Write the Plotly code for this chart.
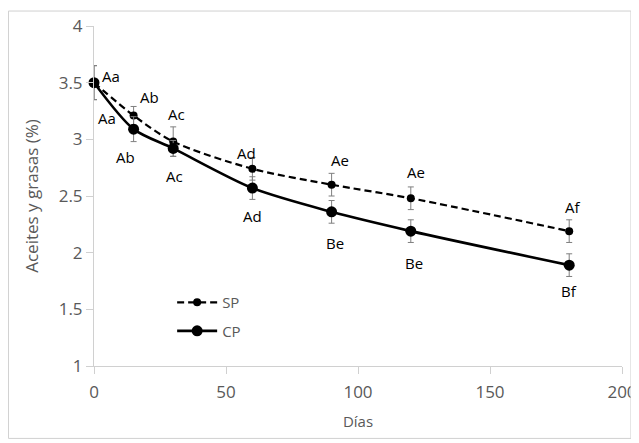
import plotly.graph_objects as go

dias = [0, 15, 30, 60, 90, 120, 180]
sp_vals = [3.50, 3.21, 2.98, 2.74, 2.60, 2.48, 2.19]
sp_err = [0.15, 0.08, 0.13, 0.10, 0.10, 0.10, 0.10]
cp_vals = [3.50, 3.09, 2.92, 2.57, 2.36, 2.19, 1.89]
cp_err = [0.15, 0.11, 0.07, 0.10, 0.10, 0.10, 0.10]
sp_labels = ["Aa", "Ab", "Ac", "Ad", "Ae", "Ae", "Af"]
cp_labels = ["Aa", "Ab", "Ac", "Ad", "Be", "Be", "Bf"]

x_ticks = [0, 50, 100, 150, 200]
y_ticks = [1, 1.5, 2, 2.5, 3, 3.5, 4]
y_ticktext = ["1", "1.5", "2", "2.5", "3", "3.5", "4"]

FONT = "Open Sans"
GRAY = "#595959"
AXIS = "#d0d0d0"

fig = go.Figure()
fig.add_trace(go.Scatter(
    x=dias, y=sp_vals, name="SP", mode="lines+markers",
    line=dict(color="black", width=2.2, dash="7px,4px", shape="spline", smoothing=0.8),
    marker=dict(size=8, color="black"),
    error_y=dict(type="data", array=sp_err, color="#7f7f7f", thickness=1, width=3),
    cliponaxis=False, legendgroup="sp",
))
fig.add_trace(go.Scatter(
    x=dias, y=cp_vals, name="CP", mode="lines+markers",
    line=dict(color="black", width=2.6, shape="spline", smoothing=0.8),
    marker=dict(size=11, color="black"),
    error_y=dict(type="data", array=cp_err, color="#7f7f7f", thickness=1, width=3),
    cliponaxis=False, legendgroup="cp",
))

sp_shift = [(17, 7), (16, 19), (3, 28), (-6, 16), (8, 25), (5, 26), (3, 24)]
cp_shift = [(13, -35), (-8, -28), (1, -28), (0, -28), (3, -31), (3, -32), (0, -26)]
for xv, yv, t, (dx, dy) in zip(dias, sp_vals, sp_labels, sp_shift):
    fig.add_annotation(x=xv, y=yv, text=t, showarrow=False, xshift=dx, yshift=dy,
                       font=dict(family=FONT, size=15, color="black"))
for xv, yv, t, (dx, dy) in zip(dias, cp_vals, cp_labels, cp_shift):
    fig.add_annotation(x=xv, y=yv, text=t, showarrow=False, xshift=dx, yshift=dy,
                       font=dict(family=FONT, size=15, color="black"))

# outer chart border
fig.add_shape(type="rect", xref="paper", yref="paper",
              x0=-0.162, x1=1.017, y0=-0.213, y1=1.044,
              line=dict(color="#d0d0d0", width=1), fillcolor="rgba(0,0,0,0)",
              layer="above")

fig.update_layout(
    width=639, height=443,
    margin=dict(l=86, r=25, t=18, b=85, autoexpand=False),
    paper_bgcolor="white", plot_bgcolor="white",
    font=dict(family=FONT, color=GRAY),
    showlegend=True,
    legend=dict(x=0.148, y=0.235, xanchor="left", yanchor="top",
                bgcolor="rgba(0,0,0,0)", font=dict(family=FONT, size=15, color=GRAY),
                tracegroupgap=6, traceorder="grouped", itemwidth=40),
    xaxis=dict(range=[0, 200], tickvals=x_ticks, showgrid=False, zeroline=False,
               showline=True, linecolor=AXIS, linewidth=1, ticks="outside",
               tickcolor=AXIS, ticklen=7, tickfont=dict(size=17, color=GRAY),
               ticklabelstandoff=4, automargin=False,
               title=dict(text="Días", font=dict(size=15, color=GRAY), standoff=14)),
    yaxis=dict(range=[1, 4], tickvals=y_ticks, ticktext=y_ticktext, showgrid=False,
               zeroline=False, showline=True, linecolor=AXIS, linewidth=1,
               ticks="outside", tickcolor=AXIS, ticklen=7, automargin=False,
               tickfont=dict(size=17, color=GRAY),
               title=dict(text="Aceites y grasas (%)", font=dict(size=17, color=GRAY), standoff=15)),
)

fig.write_html("out.html")
